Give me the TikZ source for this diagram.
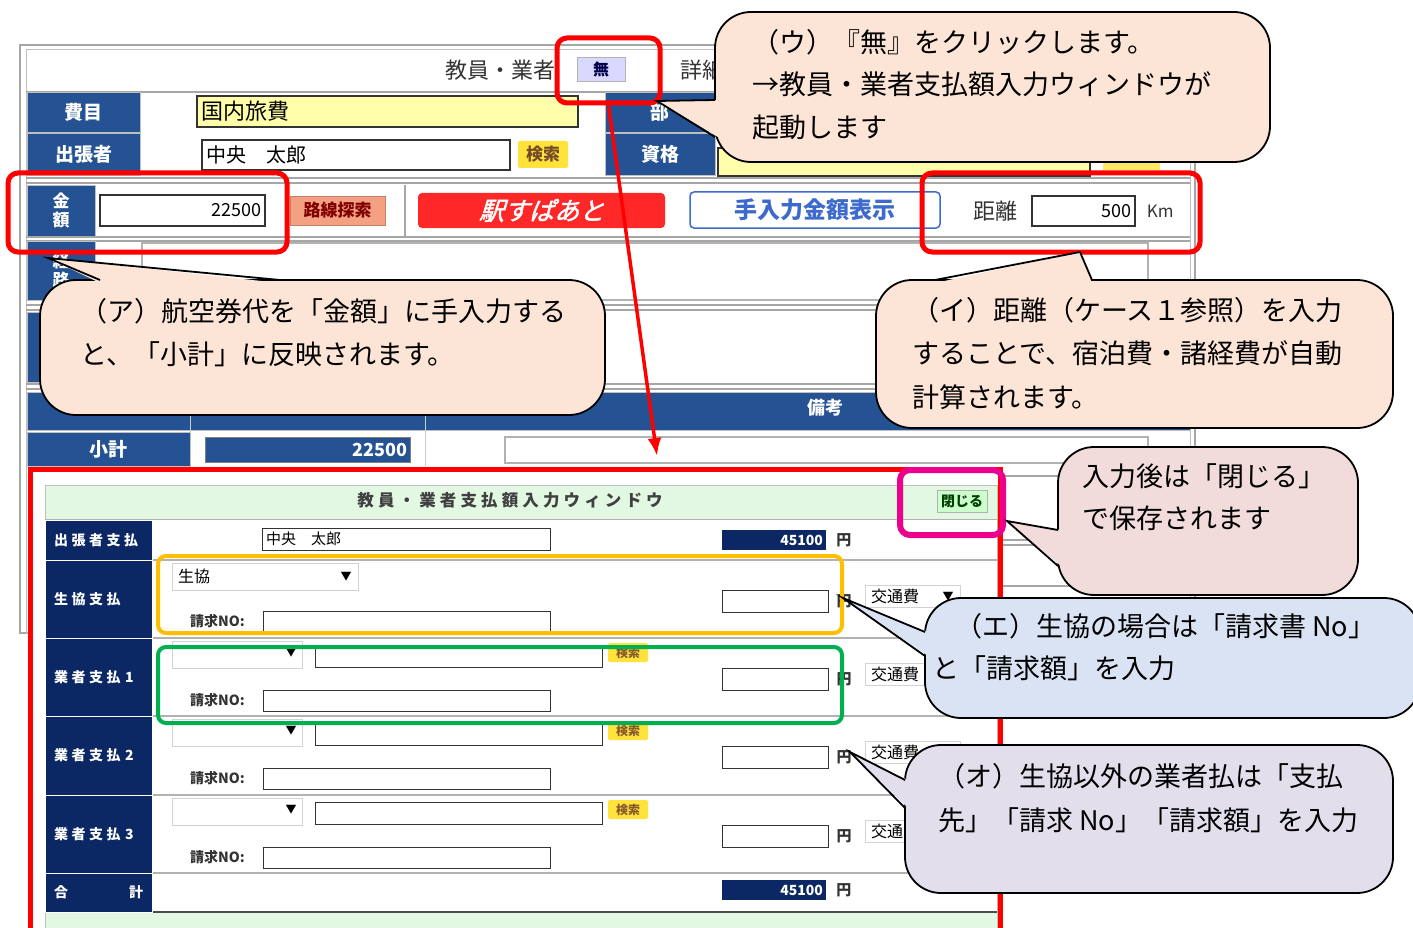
\documentclass[tikz,border=0pt]{standalone}
\usepackage{fontspec}
\setmainfont{Noto Sans CJK JP}
\newfontfamily\jpwide[LetterSpace=25]{Noto Sans CJK JP}
\newfontfamily\jpslant[FakeSlant=0.3,FakeBold=2]{Noto Sans CJK JP}
\usetikzlibrary{positioning}
\usetikzlibrary{arrows.meta}
\definecolor{winblue}{RGB}{36,82,146}
\definecolor{navy}{RGB}{12,40,100}
\definecolor{peach}{RGB}{252,229,214}
\definecolor{pinkc}{RGB}{242,220,219}
\definecolor{bluec}{RGB}{218,227,243}
\definecolor{lilac}{RGB}{226,222,236}
\definecolor{panelgreen}{RGB}{226,248,226}
\definecolor{fieldyellow}{RGB}{255,255,170}
\definecolor{btnyellow}{RGB}{255,226,60}
\definecolor{salmon}{RGB}{244,160,130}
\definecolor{ekired}{RGB}{255,40,40}
\definecolor{btnblue}{RGB}{60,106,205}
\definecolor{orangebox}{RGB}{255,190,0}
\definecolor{greenbox}{RGB}{0,176,80}
\tikzset{
    winlbl/.style = {rectangle, draw=gray!50, fill=winblue, text=white, inner sep=0, font=\bfseries\fontsize{19}{21}\selectfont},
    navlbl/.style = {rectangle, draw=white, fill=navy, text=white, inner sep=0, inner xsep=9, align=left, text width=89, minimum width=107, font=\jpwide\bfseries\fontsize{14}{16}\selectfont},
    field/.style = {rectangle, draw=gray!40!black, fill=white, line width=1.2, inner sep=0, inner xsep=4, font=\fontsize{18}{20}\selectfont},
    sfield/.style = {field, line width=1, font=\fontsize{15}{17}\selectfont},
    drop/.style = {rectangle, draw=gray!35, fill=white, line width=1, inner sep=0, inner xsep=6, align=left, font=\fontsize{16}{18}\selectfont},
    navfield/.style = {rectangle, fill=navy, text=white, inner sep=0, inner xsep=3, align=right, minimum width=104, minimum height=20, text width=98, font=\bfseries\fontsize{14}{16}\selectfont},
    findbtn/.style = {rectangle, rounded corners=2, fill=btnyellow, text=brown!70!black, inner sep=0, minimum width=40, minimum height=19, font=\bfseries\fontsize{12}{13}\selectfont},
    yen/.style = {inner sep=0, text=black!80, font=\bfseries\fontsize{15}{17}\selectfont},
    seikyu/.style = {anchor=west, inner sep=0, text=black!80, font=\bfseries\fontsize{14}{16}\selectfont},
    tri/.style = {inner sep=0, text=black, font=\fontsize{11}{12}\selectfont},
    markbox/.style = {rectangle, rounded corners=10, line width=5, inner sep=0},
    bubnode/.style = {rectangle, rounded corners=36, draw=black, line width=1.8, inner sep=0},
    bubble/.style = {draw=black, line width=1.8},
    bubtext/.style = {anchor=west, inner sep=0, font=\fontsize{27}{29}\selectfont},
    arrred/.style = {red, line width=3.5, -{Latex[length=18pt,width=14pt]}},
    grayline/.style = {gray!70, line width=1.5},
}
\begin{document}
\begin{tikzpicture}[x=1pt, y=-1pt]
\useasboundingbox (0,0) rectangle (1413,928);

% the main form behind
\draw[gray!70, line width=2.5, fill=white] (20,45) rectangle (1195,633);
\draw[gray!50, line width=1] (26,50) rectangle (1190,633);
\node[anchor=east, inner sep=0, text=black!80, font=\fontsize{22}{24}\selectfont] (tkyoin) at (556,70) {教員・業者};
\node[rectangle, draw=gray!60, fill=blue!15, minimum width=48, minimum height=24, inner sep=0, text=blue!30!black, font=\bfseries\fontsize{16}{18}\selectfont] (bmu) at (601,69) {無};
\node[anchor=west, inner sep=0, text=black!80, font=\fontsize{22}{24}\selectfont] (tshosai) at (680,70) {詳細};
\draw[grayline] (26,92) -- (1190,92);

\node[winlbl, minimum width=113, minimum height=40] (hhimoku) at (83.5,112.5) {費目};
\node[field, fill=fieldyellow, minimum width=381, minimum height=31, text width=373, font=\fontsize{22}{24}\selectfont] (fhimoku) at (387.5,111.5) {国内旅費};
\node[winlbl, minimum width=110, minimum height=40] (hbu) at (660,112.5) {部};

\node[winlbl, minimum width=113, minimum height=42] (hshutcho) at (83.5,154) {出張者};
\node[field, minimum width=308, minimum height=30, text width=300, font=\fontsize{20}{22}\selectfont] (fshutcho) at (356,155) {中央　太郎};
\node[rectangle, rounded corners=2, fill=btnyellow, minimum width=50, minimum height=27, inner sep=0, text=brown!60!black, font=\bfseries\fontsize{17}{19}\selectfont] (bkensaku) at (543,154.5) {検索};
\node[winlbl, minimum width=110, minimum height=42] (hshikaku) at (660,154) {資格};
\node[field, fill=fieldyellow, minimum width=372, minimum height=28] (fshikaku) at (904,162) {};
\node[rectangle, fill=btnyellow!80, minimum width=57, minimum height=22, inner sep=0] (bshikaku) at (1131.5,159) {};
\draw[grayline] (26,178) -- (1190,178);
\draw[grayline] (26,183) -- (1190,183);

\node[winlbl, minimum width=68, minimum height=51, align=center, font=\bfseries\fontsize{17}{19}\selectfont] (hkingaku) at (61,210.5) {金\\額};
\node[field, minimum width=165, minimum height=31, text width=157, align=right] (fkingaku) at (182.5,210.5) {22500};
\node[rectangle, fill=salmon, draw=salmon!80!black, minimum width=95, minimum height=29, inner sep=0, text=red!50!black, font=\bfseries\fontsize{17}{19}\selectfont] (brosen) at (337.5,210.5) {路線探索};
\draw[gray!70, line width=1.2] (405,185) -- (405,236);
\node[rectangle, rounded corners=4, fill=ekired, minimum width=247, minimum height=35, inner sep=0, text=white, font=\jpslant\fontsize{25}{27}\selectfont] (bsupa) at (541.5,210.5) {駅すぱあと};
\node[rectangle, rounded corners=4, draw=btnblue, line width=1.5, fill=white, minimum width=250, minimum height=36, inner sep=0, text=btnblue, font=\bfseries\fontsize{23}{25}\selectfont] (btenyu) at (815,210) {手入力金額表示};
\node[inner sep=0, text=black!80, font=\fontsize{22}{24}\selectfont] (tkyori) at (995,211) {距離};
\node[field, minimum width=103, minimum height=30, text width=95, align=right] (fkyori) at (1083.5,211) {500};
\node[right=11pt of fkyori, inner sep=0, text=black!80, font=\fontsize{17}{19}\selectfont] (tkm) {Km};
\draw[grayline] (26,237) -- (1190,237);
\draw[grayline] (26,241) -- (1190,241);

\node[winlbl, minimum width=68, minimum height=59, align=center, font=\bfseries\fontsize{17}{19}\selectfont] (hkeiro) at (61,271) {経\\路};
\node[field, draw=gray!60, minimum width=1006, minimum height=57] (fkeiro) at (645,271.5) {};
\draw[grayline] (26,305) -- (1190,305);
\draw[grayline] (26,310) -- (1190,310);
\node[winlbl, minimum width=68, minimum height=70] (hblank) at (61,347) {};
\draw[grayline] (26,384) -- (1190,384);
\draw[grayline] (26,389) -- (1190,389);
\node[winlbl, minimum width=1163, minimum height=38] (hhead) at (608.5,411) {};
\node[inner sep=0, text=white, font=\bfseries\fontsize{18}{20}\selectfont] (tbiko) at (825,408) {備考};
\draw[gray!40, line width=1] (190,392) -- (190,466);
\draw[gray!40, line width=1] (425,392) -- (425,466);
\node[winlbl, minimum width=163, minimum height=34] (hshokei) at (108.5,449) {小計};
\node[rectangle, fill=winblue, draw=gray, minimum width=205, minimum height=25, text width=199, inner sep=0, inner xsep=3, align=right, text=white, font=\bfseries\fontsize{18}{20}\selectfont] (fshokei) at (307.5,449.5) {22500};
\node[field, draw=gray!60, minimum width=643, minimum height=26] (fbiko) at (826.5,450) {};
\draw[grayline] (1000,476) -- (1190,476);
\draw[grayline] (1000,540) -- (1190,540);
\draw[grayline] (1000,545) -- (1190,545);
\draw[grayline] (1000,586) -- (1190,586);

% payment window
\draw[red, line width=5, fill=white] (30,469) rectangle (1000,945);
\draw[gray!50, fill=panelgreen] (45,485) rectangle (997,940);
\node[inner sep=0, text=black!75, font=\jpwide\bfseries\fontsize{16.5}{18}\selectfont] (twin) at (510,500) {教員・業者支払額入力ウィンドウ};
\node[rectangle, draw=gray!60, fill=green!20, minimum width=50, minimum height=22, inner sep=0, text=green!25!black, font=\bfseries\fontsize{14}{16}\selectfont] (bclose) at (962,501) {閉じる};
\draw[gray!60, fill=white] (45,519) rectangle (997,912);
\draw[black!70, line width=1.5] (45,912) -- (997,912);
\draw[gray!60, line width=1.2] (152,560) -- (997,560);
\draw[gray!60, line width=1.2] (152,638) -- (997,638);
\draw[gray!60, line width=1.2] (152,716) -- (997,716);
\draw[gray!60, line width=1.2] (152,795) -- (997,795);
\draw[gray!60, line width=1.2] (152,873) -- (997,873);

\node[navlbl, minimum height=40] (nshutcho) at (98.5,540) {出張者支払};
\node[navlbl, minimum height=78] (nseikyo) at (98.5,599) {生協支払};
\node[navlbl, minimum height=78] (ngyo1) at (98.5,677) {業者支払 1};
\node[navlbl, minimum height=79] (ngyo2) at (98.5,755.5) {業者支払 2};
\node[navlbl, minimum height=78] (ngyo3) at (98.5,834) {業者支払 3};
\node[navlbl, minimum height=39] (ngokei) at (98.5,892.5) {合\hfill 計};

\node[sfield, minimum width=288, minimum height=22, text width=280] (pname) at (406,539) {中央　太郎};
\node[navfield] (psum) at (774,540) {45100};
\node[yen, right=10pt of psum] (ysum) {円};

\node[drop, minimum width=186, minimum height=27, text width=174] (dseikyo) at (265,576.5) {生協};
\node[tri] (tseikyo) at (346,577) {▼};
\node[seikyu] (sseikyo) at (190,621) {請求NO:};
\node[sfield, minimum width=287, minimum height=21] (fseikyo) at (406.5,621.5) {};
\node[sfield, minimum width=106, minimum height=22] (aseikyo) at (775,601) {};
\node[yen, right=8pt of aseikyo] (yseikyo) {円};
\node[drop, minimum width=95, minimum height=22, text width=83] (kseikyo) at (912.5,596) {交通費};
\node[tri] (kt0) at (948,597) {▼};

\node[drop, minimum width=130, minimum height=27] (dgyo1) at (237,654.5) {};
\node[tri] (tgyo1) at (291,653) {▼};
\node[sfield, minimum width=287, minimum height=22] (pgyo1) at (458.5,656) {};
\node[findbtn] (bgyo1) at (628,652.5) {検索};
\node[seikyu] (sgyo1) at (190,700) {請求NO:};
\node[sfield, minimum width=287, minimum height=21] (fgyo1) at (406.5,701) {};
\node[sfield, minimum width=106, minimum height=22] (agyo1) at (775,679) {};
\node[yen, right=8pt of agyo1] (ygyo1) {円};
\node[drop, minimum width=95, minimum height=22, text width=83] (kgyo1) at (912.5,674) {交通費};

\node[drop, minimum width=130, minimum height=27] (dgyo2) at (237,732.5) {};
\node[tri] (tgyo2) at (291,731) {▼};
\node[sfield, minimum width=287, minimum height=22] (pgyo2) at (458.5,734) {};
\node[findbtn] (bgyo2) at (628,730.5) {検索};
\node[seikyu] (sgyo2) at (190,778) {請求NO:};
\node[sfield, minimum width=287, minimum height=21] (fgyo2) at (406.5,779) {};
\node[sfield, minimum width=106, minimum height=22] (agyo2) at (775,757) {};
\node[yen, right=8pt of agyo2] (ygyo2) {円};
\node[drop, minimum width=95, minimum height=22, text width=83] (kgyo2) at (912.5,752) {交通費};

\node[drop, minimum width=130, minimum height=27] (dgyo3) at (237,811.5) {};
\node[tri] (tgyo3) at (291,810) {▼};
\node[sfield, minimum width=287, minimum height=22] (pgyo3) at (458.5,813) {};
\node[findbtn] (bgyo3) at (628,809.5) {検索};
\node[seikyu] (sgyo3) at (190,857) {請求NO:};
\node[sfield, minimum width=287, minimum height=21] (fgyo3) at (406.5,858) {};
\node[sfield, minimum width=106, minimum height=22] (agyo3) at (775,836) {};
\node[yen, right=8pt of agyo3] (ygyo3) {円};
\node[drop, minimum width=95, minimum height=22, text width=83] (kgyo3) at (912.5,831) {交通費};

\node[navfield] (pgokei) at (774,890) {45100};
\node[yen, right=10pt of pgokei] (ygokei) {円};

% marks
\node[markbox, draw=red, minimum width=103, minimum height=65] (rmu) at (608.5,70.5) {};
\node[markbox, draw=red, minimum width=279, minimum height=79] (rkingaku) at (147.5,212.5) {};
\node[markbox, draw=red, minimum width=278, minimum height=79] (rkyori) at (1061,212.5) {};
\node[markbox, draw=magenta, line width=6, minimum width=103, minimum height=65] (rclose) at (951.5,502.5) {};
\node[markbox, draw=orangebox, line width=4, rounded corners=8, minimum width=684, minimum height=77] (rseikyo) at (500,594.5) {};
\node[markbox, draw=greenbox, line width=4, rounded corners=8, minimum width=684, minimum height=76] (rgyo1) at (500,685) {};
\coordinate (arrend) at (657,456);
\draw[arrred] (rmu.south) -- (arrend);

% callouts
\node[bubnode, fill=peach, minimum width=555, minimum height=150] (bubU) at (992.5,87) {};
\fill[peach] (657,101) -- (718,100) -- (718,137) -- cycle;
\draw[bubble] (715,100) -- (657,101) -- (715,137);
\node[bubtext] (cU1) at (752,42) {（ウ）『無』をクリックします。};
\node[bubtext] (cU2) at (752,84) {→教員・業者支払額入力ウィンドウが};
\node[bubtext] (cU3) at (752,127) {起動します};

\node[bubnode, fill=peach, minimum width=565, minimum height=135] (bubA) at (322.5,347.5) {};
\fill[peach] (48,258) -- (100,283) -- (280,283) -- cycle;
\draw[bubble] (100,280) -- (48,258) -- (280,280);
\node[bubtext] (cA1) at (80,311) {（ア）航空券代を「金額」に手入力する};
\node[bubtext] (cA2) at (80,354) {と、「小計」に反映されます。};

\node[bubnode, fill=peach, minimum width=517, minimum height=148] (bubI) at (1134.5,354) {};
\fill[peach] (1080,252) -- (935,283) -- (1092,283) -- cycle;
\draw[bubble] (935,280) -- (1080,252) -- (1092,280);
\node[bubtext] (cI1) at (912,310) {（イ）距離（ケース１参照）を入力};
\node[bubtext] (cI2) at (912,353) {することで、宿泊費・諸経費が自動};
\node[bubtext] (cI3) at (912,397) {計算されます。};

\node[bubnode, fill=pinkc, minimum width=300, minimum height=148] (bubC) at (1208,521) {};
\fill[pinkc] (1007,521) -- (1061,530) -- (1061,566) -- cycle;
\draw[bubble] (1058,530) -- (1007,521) -- (1058,566);
\node[bubtext] (cC1) at (1082,476) {入力後は「閉じる」};
\node[bubtext] (cC2) at (1082,518) {で保存されます};

\node[bubnode, fill=bluec, minimum width=495, minimum height=120] (bubE) at (1172.5,658) {};
\fill[bluec] (843,598) -- (928,632) -- (928,656) -- cycle;
\draw[bubble] (925,632) -- (843,598) -- (925,656);
\node[bubtext] (cE1) at (955,626) {（エ）生協の場合は「請求書 No」};
\node[bubtext] (cE2) at (932,668) {と「請求額」を入力};

\node[bubnode, fill=lilac, minimum width=488, minimum height=148] (bubO) at (1149,819) {};
\fill[lilac] (850,752) -- (908,780) -- (908,808) -- cycle;
\draw[bubble] (905,780) -- (850,752) -- (905,808);
\node[bubtext] (cO1) at (938,776) {（オ）生協以外の業者払は「支払};
\node[bubtext] (cO2) at (938,820) {先」「請求 No」「請求額」を入力};
\end{tikzpicture}
\end{document}
